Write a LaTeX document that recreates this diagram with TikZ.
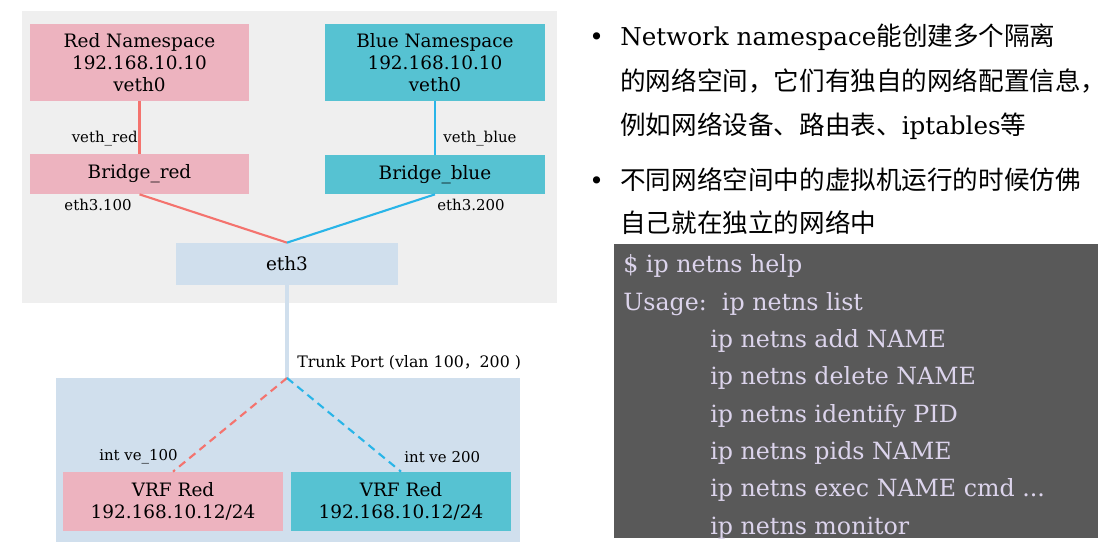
\documentclass[tikz,border=0pt]{standalone}
\usepackage{fontspec}
\setmainfont{DejaVu Serif}
\newfontfamily\cjk[Scale=1.04]{Noto Sans CJK SC}
\newfontfamily\cjksmall{Noto Sans CJK SC}
\definecolor{nsred}{HTML}{EDB3BF}
\definecolor{nsblue}{HTML}{56C2D2}
\definecolor{ethblue}{HTML}{D0DFED}
\definecolor{hostgray}{HTML}{EFEFEF}
\definecolor{redline}{HTML}{F4736E}
\definecolor{blueline}{HTML}{29B5E8}
\definecolor{termbg}{HTML}{595959}
\definecolor{termtext}{HTML}{DCD4EC}

\begin{document}
\begin{tikzpicture}[x=0.02cm, y=-0.02cm,
    box/.style={inner sep=0pt, align=center, font=\fontsize{10.5}{12.5}\selectfont},
    lbl/.style={inner sep=0pt, font=\fontsize{8.5}{10}\selectfont},
    txt/.style={inner sep=0pt, anchor=base west, font=\fontsize{14}{17}\selectfont},
    term/.style={inner sep=0pt, anchor=base west, text=termtext, font=\fontsize{13.5}{17}\selectfont}]

  \useasboundingbox (0,0) rectangle (1114,550);

  % host and switch areas
  \node[fill=hostgray, minimum width=10.7cm, minimum height=5.84cm, inner sep=0pt] (host) at (289.5,157) {};
  \node[fill=ethblue, minimum width=9.28cm, minimum height=3.28cm, inner sep=0pt] (switch) at (288,460) {};

  \node[box, fill=nsred, minimum width=4.38cm, minimum height=1.54cm] (redns) at (139.5,62.5) {Red Namespace\\192.168.10.10\\veth0};
  \node[box, fill=nsblue, minimum width=4.4cm, minimum height=1.54cm] (bluens) at (435,62.5) {Blue Namespace\\192.168.10.10\\veth0};
  \node[box, fill=nsred, minimum width=4.38cm, minimum height=0.8cm] (bridgered) at (139.5,174) {Bridge\_red};
  \node[box, fill=nsblue, minimum width=4.4cm, minimum height=0.78cm] (bridgeblue) at (435,174.5) {Bridge\_blue};
  \node[box, fill=ethblue, minimum width=4.44cm, minimum height=0.84cm] (eth3) at (287,264) {eth3};
  \node[box, fill=nsred, minimum width=4.4cm, minimum height=1.18cm] (vrfred) at (173,501.5) {VRF Red\\192.168.10.12/24};
  \node[box, fill=nsblue, minimum width=4.4cm, minimum height=1.18cm] (vrfblue) at (401,501.5) {VRF Red\\192.168.10.12/24};
  \coordinate (trunk) at (287,378);

  \node[lbl, anchor=east] (vethred) at (138,139) {veth\_red};
  \node[lbl, anchor=west] (vethblue) at (443,139) {veth\_blue};
  \node[lbl, anchor=east] (eth100) at (132,205) {eth3.100};
  \node[lbl, anchor=west] (eth200) at (437,205) {eth3.200};
  \node[lbl, anchor=west, font=\fontsize{9}{10}\selectfont] (trunklbl) at (297,363) {Trunk Port (vlan 100{\cjksmall ，}200 )};
  \node[lbl, anchor=east] (ve100) at (178,457) {int ve\_100};
  \node[lbl, anchor=west] (ve200) at (404,457) {int ve 200};

  \draw[redline, line width=1.2pt] (redns) -- (bridgered);
  \draw[blueline, line width=1.2pt] (bluens) -- (bridgeblue);
  \draw[redline, line width=1.2pt] (bridgered.south) -- (eth3.north);
  \draw[blueline, line width=1.2pt] (bridgeblue.south) -- (eth3.north);
  \draw[ethblue, line width=2.3pt] (eth3.south) -- (trunk);
  \draw[redline, line width=1.2pt, dash pattern=on 4.5pt off 3pt] (trunk) -- (vrfred.north);
  \draw[blueline, line width=1.2pt, dash pattern=on 4.5pt off 3pt] (trunk) -- (vrfblue.north);

  % bullet text
  \node[txt] (dot1) at (589,46) {•};
  \node[txt] (line1) at (620,46) {Network namespace{\cjk 能创建多个隔离}};
  \node[txt] (line2) at (620,91) {\cjk 的网络空间，它们有独自的网络配置信息，};
  \node[txt] (line3) at (620,135) {{\cjk 例如网络设备、路由表、}iptables{\cjk 等}};
  \node[txt] (dot2) at (589,190) {•};
  \node[txt] (line4) at (620,190) {\cjk 不同网络空间中的虚拟机运行的时候仿佛};
  \node[txt] (line5) at (620,233) {\cjk 自己就在独立的网络中};

  % terminal
  \node[fill=termbg, minimum width=9.68cm, minimum height=5.88cm, inner sep=0pt] (terminal) at (856,391) {};
  \node[term] (cmd1) at (623,273) {\$ ip netns help};
  \node[term] (cmd2) at (623,310.3) {Usage:\ \ ip netns list};
  \node[term] (cmd3) at (710,347.6) {ip netns add NAME};
  \node[term] (cmd4) at (710,384.9) {ip netns delete NAME};
  \node[term] (cmd5) at (710,422.2) {ip netns identify PID};
  \node[term] (cmd6) at (710,459.5) {ip netns pids NAME};
  \node[term] (cmd7) at (710,496.8) {ip netns exec NAME cmd ...};
  \node[term] (cmd8) at (710,534.1) {ip netns monitor};

\end{tikzpicture}
\end{document}
